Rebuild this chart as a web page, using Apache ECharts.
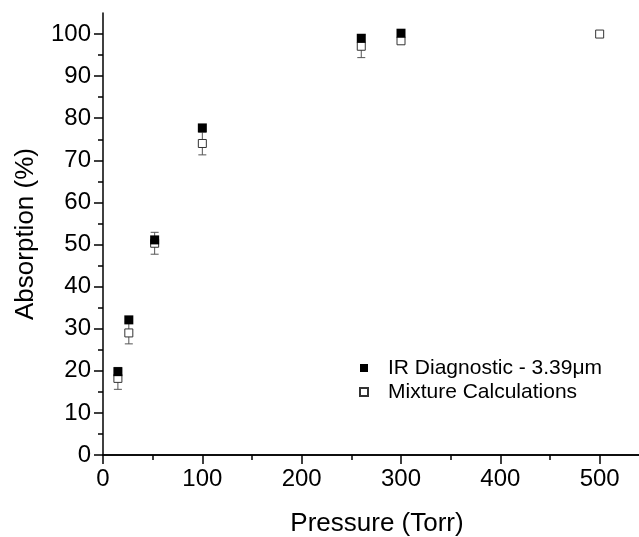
<!DOCTYPE html>
<html>
<head>
<meta charset="utf-8">
<script src="https://cdn.jsdelivr.net/npm/echarts@6/dist/echarts.min.js"></script>
<style>
html,body{margin:0;padding:0;background:#fff;}
#chart{width:639px;height:537px;}
</style>
</head>
<body>
<div id="chart"></div>
<script>
// Data
const pressureIR = [15, 26, 52, 100, 260, 300];
const absorptionIR = [19.8, 32.1, 51.1, 77.7, 99.0, 100.2];
const pressureMix = [15, 26, 52, 100, 260, 300, 500];
const absorptionMix = [18.2, 29.0, 50.3, 74.0, 97.1, 98.4, 100.0];
const errorMix = [2.6, 2.6, 2.6, 2.7, 2.7, 0, 0];
const yMajorTicks = [0, 10, 20, 30, 40, 50, 60, 70, 80, 90, 100];
const yMinorTicks = [5, 15, 25, 35, 45, 55, 65, 75, 85, 95];
const seriesNames = ['IR Diagnostic - 3.39\u03bcm', 'Mixture Calculations'];

const FONT = '"Liberation Sans", Arial, Helvetica, sans-serif';
const chart = echarts.init(document.getElementById('chart'), null, {renderer: 'canvas'});

const irData = pressureIR.map((p, i) => [p, absorptionIR[i]]);
const mixData = pressureMix.map((p, i) => [p, absorptionMix[i]]);
const errData = pressureMix
  .map((p, i) => [p, absorptionMix[i] - errorMix[i], absorptionMix[i] + errorMix[i], errorMix[i]])
  .filter(d => d[3] > 0);

const axisLineStyle = {color: '#000', width: 1.5};

const option = {
  animation: false,
  backgroundColor: '#fff',
  textStyle: {fontFamily: FONT},
  grid: {left: 103, top: 13, width: 596, height: 442, containLabel: false, outerBoundsMode: 'none'},
  legend: {
    data: seriesNames,
    orient: 'vertical',
    left: 354,
    top: 351,
    itemWidth: 8,
    itemHeight: 8,
    itemGap: 0,
    icon: 'rect',
    textStyle: {fontSize: 21, color: '#000', fontFamily: FONT, lineHeight: 24, padding: [0, 0, 0, 15]}
  },
  xAxis: [{
    type: 'value', min: 0, max: 600, interval: 100,
    axisLine: {show: true, lineStyle: axisLineStyle},
    axisTick: {show: true, inside: false, length: 9, lineStyle: axisLineStyle},
    minorTick: {show: true, splitNumber: 2, length: 5, lineStyle: axisLineStyle},
    splitLine: {show: false},
    minorSplitLine: {show: false},
    axisLabel: {fontSize: 24, color: '#000', margin: 12, fontFamily: FONT, showMaxLabel: false},
    name: 'Pressure (Torr)', nameLocation: 'middle', nameGap: 56,
    nameTextStyle: {fontSize: 26, color: '#000', fontFamily: FONT, padding: [0, 48, 0, 0]}
  }, {
    type: 'value', position: 'top', min: 0, max: 600,
    axisLine: {show: true, lineStyle: axisLineStyle},
    axisTick: {show: false}, axisLabel: {show: false}, splitLine: {show: false}
  }],
  yAxis: [{
    type: 'value', min: 0, max: 105,
    axisLine: {show: true, lineStyle: axisLineStyle},
    axisTick: {show: true, length: 9, lineStyle: axisLineStyle, customValues: yMajorTicks},
    splitLine: {show: false},
    axisLabel: {fontSize: 24, color: '#000', margin: 12, fontFamily: FONT, customValues: yMajorTicks},
    name: 'Absorption (%)', nameLocation: 'middle', nameGap: 64,
    nameTextStyle: {fontSize: 26, color: '#000', fontFamily: FONT}
  }, {
    type: 'value', min: 0, max: 105, position: 'left',
    axisLine: {show: false},
    axisTick: {show: true, length: 5, lineStyle: axisLineStyle, customValues: yMinorTicks},
    axisLabel: {show: false},
    splitLine: {show: false}
  }],
  series: [{
    type: 'custom',
    name: 'errors',
    xAxisIndex: 0, yAxisIndex: 0,
    z: 1,
    silent: true,
    renderItem: function (params, api) {
      const x = api.value(0);
      const top = api.coord([x, api.value(2)]);
      const bot = api.coord([x, api.value(1)]);
      const hw = 4;
      const st = {stroke: '#555', lineWidth: 1};
      return {
        type: 'group',
        children: [
          {type: 'line', shape: {x1: top[0], y1: top[1], x2: bot[0], y2: bot[1]}, style: st},
          {type: 'line', shape: {x1: top[0] - hw, y1: top[1], x2: top[0] + hw, y2: top[1]}, style: st},
          {type: 'line', shape: {x1: bot[0] - hw, y1: bot[1], x2: bot[0] + hw, y2: bot[1]}, style: st}
        ]
      };
    },
    encode: {x: 0, y: [1, 2]},
    data: errData
  }, {
    type: 'scatter',
    name: seriesNames[1],
    xAxisIndex: 0, yAxisIndex: 0,
    z: 2,
    symbol: 'rect',
    symbolSize: 8,
    itemStyle: {color: '#fff', borderColor: '#333', borderWidth: 1, opacity: 1},
    data: mixData
  }, {
    type: 'scatter',
    name: seriesNames[0],
    xAxisIndex: 0, yAxisIndex: 0,
    z: 3,
    symbol: 'rect',
    symbolSize: 9,
    itemStyle: {color: '#000', opacity: 1},
    data: irData
  }]
};
chart.setOption(option);
</script>
</body>
</html>
